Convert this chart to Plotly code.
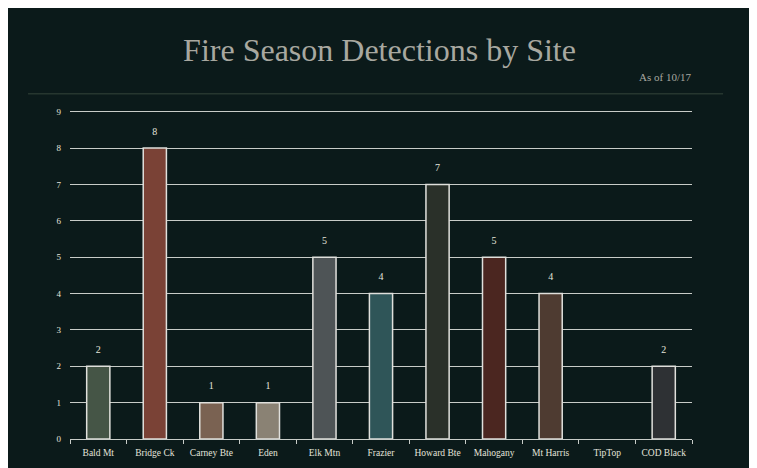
import plotly.graph_objects as go

# Paleta
BG = "#0b1a1a"; TX = "#e4e4dc"; TT = "#a8a8a0"; GD = "#c8ccc8"; SEP = "#26362f"

sites = ["Bald Mt", "Bridge Ck", "Carney Bte", "Eden", "Elk Mtn", "Frazier",
         "Howard Bte", "Mahogany", "Mt Harris", "TipTop", "COD Black"]
detections = [2, 8, 1, 1, 5, 4, 7, 5, 4, 0, 2]
bar_colors = ["#455546", "#7a4236", "#7a6252", "#8a8274", "#4e5456", "#2f5558",
              "#2a3029", "#4b2620", "#4e3b31", "#333333", "#2e3134"]
y_ticks = list(range(0, 10))

FONT = "Liberation Serif, DejaVu Serif, serif"

fig = go.Figure()
fig.add_trace(go.Bar(
    x=sites, y=detections,
    marker=dict(color=bar_colors,
                line=dict(color="#e0e0dc", width=[1.5 if v else 0 for v in detections])),
    hovertemplate="%{x}: %{y}<extra></extra>"))
# rótulos acima das barras (marcador invisível dá o afastamento)
fig.add_trace(go.Scatter(
    x=sites, y=detections, mode="markers+text",
    marker=dict(size=16, opacity=0),
    text=[str(v) if v else "" for v in detections],
    textposition="top center", cliponaxis=False,
    textfont=dict(color=TX, size=10, family=FONT),
    hoverinfo="skip"))

fig.update_layout(
    width=743, height=460,
    paper_bgcolor=BG, plot_bgcolor=BG,
    font=dict(color=TX, family=FONT),
    margin=dict(t=100, b=29, l=62, r=59, autoexpand=False),
    bargap=0.59, showlegend=False,
    title=dict(text="Fire Season Detections by Site", x=0.5, xanchor="center",
               y=1 - 42 / 460, yanchor="middle",
               font=dict(size=32, color=TT, family=FONT)),
    annotations=[dict(text="As of 10/17", xref="paper", yref="paper",
                      x=0.957, y=1.095, xanchor="center", yanchor="middle",
                      showarrow=False, font=dict(size=11, color=TT, family=FONT))],
    shapes=[dict(type="line", xref="paper", yref="paper",
                 x0=-0.0675, x1=1.05, y0=1.043, y1=1.043,
                 line=dict(color=SEP, width=1.5))])

fig.update_xaxes(range=[-0.5, len(sites) - 0.5], showgrid=False, showline=True,
                 linecolor=GD, linewidth=1,
                 ticks="outside", tickson="boundaries", ticklen=4, tickcolor=GD,
                 tickangle=0, ticklabelstandoff=5, tickfont=dict(size=9.5, color=TX))
fig.update_yaxes(range=[0, 9.1], tickvals=y_ticks, showgrid=True, gridcolor=GD,
                 gridwidth=1, zeroline=False, tickfont=dict(size=9, color=TX),
                 ticklabelstandoff=8)

fig.write_html("out.html")
